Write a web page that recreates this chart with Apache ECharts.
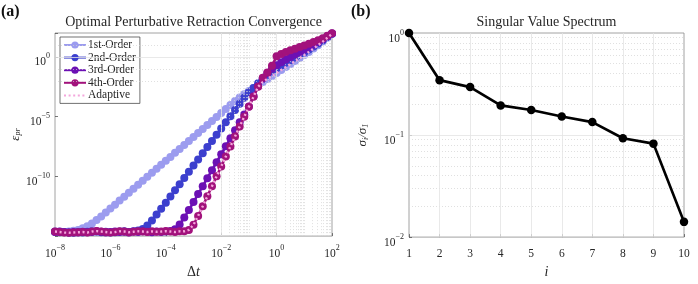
<!DOCTYPE html>
<html><head><meta charset="utf-8">
<script src="https://cdn.jsdelivr.net/npm/echarts@6/dist/echarts.min.js"></script>
<style>html,body{margin:0;padding:0;background:#fff}#c{width:698px;height:284px}</style>
</head><body><div id="c"></div>
<script>
// ---- Panel (a) data: log10 of time step and log10 of error ----
const dtExp = [-8,-7.833,-7.667,-7.5,-7.333,-7.167,-7,-6.833,-6.667,-6.5,-6.333,-6.167,-6,-5.833,-5.667,-5.5,-5.333,-5.167,-5,-4.833,-4.667,-4.5,-4.333,-4.167,-4,-3.833,-3.667,-3.5,-3.333,-3.167,-3,-2.833,-2.667,-2.5,-2.333,-2.167,-2,-1.833,-1.667,-1.5,-1.333,-1.167,-1,-0.833,-0.667,-0.5,-0.333,-0.167,0,0.167,0.333,0.5,0.667,0.833,1,1.167,1.333,1.5,1.667,1.833,2];
const order1Exp = [-14.62,-14.64,-14.66,-14.62,-14.55,-14.48,-14.35,-14.18,-13.94,-13.65,-13.35,-13.02,-12.7,-12.37,-12.03,-11.7,-11.37,-11.03,-10.7,-10.37,-10.03,-9.7,-9.37,-9.03,-8.7,-8.37,-8.03,-7.7,-7.37,-7.03,-6.7,-6.37,-6.03,-5.7,-5.37,-5.03,-4.7,-4.37,-4.03,-3.7,-3.4,-3.12,-2.85,-2.6,-2.35,-2.1,-1.85,-1.6,-1.35,-1.1,-0.85,-0.6,-0.35,-0.1,0.15,0.42,0.7,0.98,1.28,1.6,1.93];
const order2Exp = [-14.64,-14.68,-14.66,-14.7,-14.72,-14.66,-14.7,-14.64,-14.6,-14.62,-14.68,-14.64,-14.7,-14.68,-14.62,-14.6,-14.66,-14.6,-14.54,-14.4,-14.12,-13.7,-13.2,-12.72,-12.2,-11.68,-11.17,-10.65,-10.13,-9.62,-9.1,-8.58,-8.07,-7.55,-7.03,-6.52,-6.0,-5.48,-4.97,-4.45,-3.93,-3.42,-2.95,-2.6,-2.2,-1.85,-1.5,-1.2,-0.95,-0.72,-0.5,-0.28,-0.06,0.16,0.38,0.62,0.87,1.12,1.39,1.66,1.94];
const order3Exp = [-14.66,-14.62,-14.68,-14.7,-14.66,-14.7,-14.64,-14.68,-14.66,-14.6,-14.64,-14.7,-14.66,-14.62,-14.66,-14.64,-14.7,-14.62,-14.66,-14.6,-14.64,-14.68,-14.62,-14.66,-14.62,-14.57,-14.43,-14.03,-13.45,-12.82,-12.15,-11.48,-10.82,-10.15,-9.48,-8.82,-8.15,-7.48,-6.82,-6.15,-5.48,-4.82,-4.15,-3.3,-2.45,-1.8,-1.35,-1.0,-0.7,-0.45,-0.22,0.0,0.2,0.4,0.6,0.8,1.02,1.25,1.48,1.72,1.95];
const order4Exp = [-14.62,-14.66,-14.7,-14.72,-14.7,-14.68,-14.66,-14.7,-14.62,-14.58,-14.62,-14.66,-14.7,-14.66,-14.6,-14.62,-14.68,-14.64,-14.6,-14.62,-14.66,-14.6,-14.64,-14.62,-14.58,-14.62,-14.66,-14.6,-14.6,-14.48,-14.05,-13.31,-12.5,-11.67,-10.83,-10.0,-9.17,-8.33,-7.5,-6.67,-5.83,-5.0,-4.17,-3.33,-2.5,-1.75,-1.3,-0.75,0.05,0.25,0.4,0.55,0.68,0.82,0.96,1.1,1.25,1.4,1.57,1.76,1.97];
const adaptiveExp = [-14.62,-14.66,-14.7,-14.72,-14.7,-14.68,-14.66,-14.7,-14.62,-14.58,-14.62,-14.66,-14.7,-14.66,-14.6,-14.62,-14.68,-14.64,-14.6,-14.62,-14.66,-14.6,-14.64,-14.62,-14.58,-14.62,-14.66,-14.6,-14.6,-14.48,-14.05,-13.31,-12.5,-11.67,-10.83,-10.0,-9.17,-8.33,-7.5,-6.67,-5.83,-5.0,-4.17,-3.33,-2.5,-2.1,-1.85,-1.6,-1.35,-1.1,-0.85,-0.6,-0.35,-0.1,0.15,0.42,0.7,0.98,1.28,1.6,1.93];
const seriesNames = ['1st-Order','2nd-Order','3rd-Order','4th-Order','Adaptive'];
const xTickExpA = [-8,-6,-4,-2,0,2];
const yTickExpA = [-10,-5,0];

// ---- Panel (b) data ----
const svIndex = [1,2,3,4,5,6,7,8,9,10];
const svRatio = [1.0,0.345,0.295,0.195,0.176,0.152,0.134,0.093,0.0824,0.0141];
const yTickExpB = [-2,-1,0];

const SERIF = '"Liberation Serif","DejaVu Serif",serif';
const TXT = '#262626';
const pw = e => Math.pow(10, e);
const pairs = ys => dtExp.map((e, i) => [pw(e), pw(ys[i])]);
function supLabel(v, allowed) {
  const e = Math.log10(v);
  const r = Math.round(e);
  if (Math.abs(e - r) > 1e-6 || allowed.indexOf(r) < 0) return '';
  return '{b|10}{s|' + (r < 0 ? '\u2212' + (-r) : r) + '}';
}
const supRich = {
  b: {fontFamily: SERIF, fontSize: 11.5, color: TXT, lineHeight: 16, verticalAlign: 'bottom', height: 12},
  s: {fontFamily: SERIF, fontSize: 8, color: TXT, lineHeight: 8, verticalAlign: 'top', height: 8}
};

// grid lines (styling only)
const majorStyle = {color: '#e3e3e3', width: 0.8, type: 'solid'};
const minorStyle = {color: '#d2d2d2', width: 0.7, type: [1, 2]};
const xMinorA = [], xMajorA = [], yMinorA = [], yMajorA = [];
for (let n = -8; n < 2; n++) for (let k = 1; k < 10; k++) {
  if (k === 1 && n % 2 === 0) { if (n > -8) xMajorA.push({xAxis: pw(n)}); continue; }
  xMinorA.push({xAxis: k * pw(n)});
}
for (let n = -14; n <= 1; n++) { if (yTickExpA.indexOf(n) >= 0) yMajorA.push({yAxis: pw(n)}); else yMinorA.push({yAxis: pw(n)}); }
const xMajorB = [], yMinorB = [], yMajorB = [{yAxis: 0.1}];
for (let i = 2; i <= 9; i++) xMajorB.push({xAxis: i});
for (let n = -2; n < 0; n++) for (let k = 2; k < 10; k++) yMinorB.push({yAxis: k * pw(n)});

function gridSeries(xi, yi, data, style) {
  return {type: 'line', xAxisIndex: xi, yAxisIndex: yi, data: [], silent: true, z: 1,
    markLine: {silent: true, symbol: ['none', 'none'], label: {show: false}, lineStyle: style, data: data, animation: false}};
}

const colors = ['#9c9cef', '#3c3fce', '#6c10b4', '#a2127c', '#f4a6dc'];
const expArrays = [order1Exp, order2Exp, order3Exp, order4Exp];

const series = [
  gridSeries(0, 0, xMinorA.concat(yMinorA), minorStyle),
  gridSeries(0, 0, xMajorA.concat(yMajorA), majorStyle),
  gridSeries(1, 1, yMinorB, minorStyle),
  gridSeries(1, 1, xMajorB.concat(yMajorB), majorStyle)
];
expArrays.forEach((arr, i) => {
  series.push({name: seriesNames[i], type: 'line', xAxisIndex: 0, yAxisIndex: 0, data: pairs(arr),
    symbol: 'circle', symbolSize: 8, clip: false, z: 3 + i,
    lineStyle: {color: colors[i], width: 2.6}, itemStyle: {color: colors[i]}});
});
series.push({name: seriesNames[4], type: 'line', xAxisIndex: 0, yAxisIndex: 0, data: pairs(adaptiveExp),
  symbol: 'none', clip: false, z: 8,
  lineStyle: {color: colors[4], width: 2.4, type: [2, 2.6]}, itemStyle: {color: colors[4]}});
series.push({name: 'sv', type: 'line', xAxisIndex: 1, yAxisIndex: 1,
  data: svIndex.map((x, i) => [x, svRatio[i]]), symbol: 'circle', symbolSize: 8.5, clip: false, z: 5,
  lineStyle: {color: '#000', width: 2.7}, itemStyle: {color: '#000'}});

const axisCommon = {
  axisLine: {show: false},
  axisTick: {show: true, inside: true, length: 3, lineStyle: {color: '#555', width: 0.8}},
  splitLine: {show: false},
};

const option = {
  animation: false,
  backgroundColor: '#fff',
  title: [
    {text: 'Optimal Perturbative Retraction Convergence', left: 193.5, top: 15, textAlign: 'center', padding: 0,
      textStyle: {fontFamily: SERIF, fontSize: 14, fontWeight: 'normal', color: TXT}},
    {text: 'Singular Value Spectrum', left: 546.5, top: 15, textAlign: 'center', padding: 0,
      textStyle: {fontFamily: SERIF, fontSize: 14, fontWeight: 'normal', color: TXT}},
    {text: '(a)', left: 1, top: 4, padding: 0, textStyle: {fontFamily: SERIF, fontSize: 16, fontWeight: 'bold', color: '#111'}},
    {text: '(b)', left: 351, top: 4, padding: 0, textStyle: {fontFamily: SERIF, fontSize: 16, fontWeight: 'bold', color: '#111'}}
  ],
  legend: {
    data: seriesNames.slice(0, 4).concat([{name: 'Adaptive', itemStyle: {opacity: 0}}]),
    orient: 'vertical', left: 60, top: 37, padding: [2, 4, 2, 3], itemGap: 0.6,
    itemWidth: 22, itemHeight: 9, backgroundColor: '#fff', borderColor: '#333', borderWidth: 0.7,
    textStyle: {fontFamily: SERIF, fontSize: 11.5, lineHeight: 12, color: TXT, padding: [0, 0, 0, -3]}, selectedMode: false
  },
  grid: [
    {left: 55, top: 33, width: 277, height: 214, show: true, borderColor: '#8a8a8a', borderWidth: 0.8, backgroundColor: 'transparent'},
    {left: 409, top: 33, width: 275, height: 214, show: true, borderColor: '#8a8a8a', borderWidth: 0.8, backgroundColor: 'transparent'}
  ],
  xAxis: [
    Object.assign({}, axisCommon, {gridIndex: 0, type: 'log', logBase: 10, min: pw(-8), max: pw(2), interval: 2,
      name: '{d|\u0394}{t|t}', nameLocation: 'middle', nameGap: 21,
      nameTextStyle: {rich: {d: {fontFamily: SERIF, fontSize: 14, color: TXT}, t: {fontFamily: SERIF, fontSize: 14, fontStyle: 'italic', color: TXT}}},
      axisLabel: {margin: 8, formatter: v => supLabel(v, xTickExpA), rich: supRich}}),
    Object.assign({}, axisCommon, {gridIndex: 1, type: 'value', min: 1, max: 10, interval: 1,
      name: 'i', nameLocation: 'middle', nameGap: 22,
      nameTextStyle: {fontFamily: SERIF, fontSize: 14, fontStyle: 'italic', color: TXT},
      axisLabel: {margin: 11, fontFamily: SERIF, fontSize: 11.5, color: TXT}})
  ],
  yAxis: [
    Object.assign({}, axisCommon, {gridIndex: 0, type: 'log', logBase: 10, min: pw(-15), max: pw(2), interval: 5,
      name: '{e|\u03b5}{p|pr}', nameLocation: 'middle', nameGap: 30,
      nameTextStyle: {rich: {e: {fontFamily: SERIF, fontSize: 13, fontStyle: 'italic', color: TXT, verticalAlign: 'top', lineHeight: 14, height: 14},
        p: {fontFamily: SERIF, fontSize: 8, fontStyle: 'italic', color: TXT, verticalAlign: 'bottom', lineHeight: 8, height: 8}}},
      axisLabel: {margin: 5, padding: [7, 0, 0, 0], formatter: v => supLabel(v, yTickExpA), rich: supRich}}),
    Object.assign({}, axisCommon, {gridIndex: 1, type: 'log', logBase: 10, min: 0.01, max: 1, interval: 1,
      name: '{s|\u03c3}{b|i}{s|/\u03c3}{b|1}', nameLocation: 'middle', nameGap: 39,
      nameTextStyle: {rich: {s: {fontFamily: SERIF, fontSize: 13, fontStyle: 'italic', color: TXT, verticalAlign: 'top', lineHeight: 14, height: 14},
        b: {fontFamily: SERIF, fontSize: 8, fontStyle: 'italic', color: TXT, verticalAlign: 'bottom', lineHeight: 8, height: 8}}},
      axisLabel: {margin: 5, padding: [7, 0, 0, 0], formatter: v => supLabel(v, yTickExpB), rich: supRich}})
  ],
  series: series
};
const chart = echarts.init(document.getElementById('c'), null, {renderer: 'canvas'});
chart.setOption(option);
</script></body></html>
